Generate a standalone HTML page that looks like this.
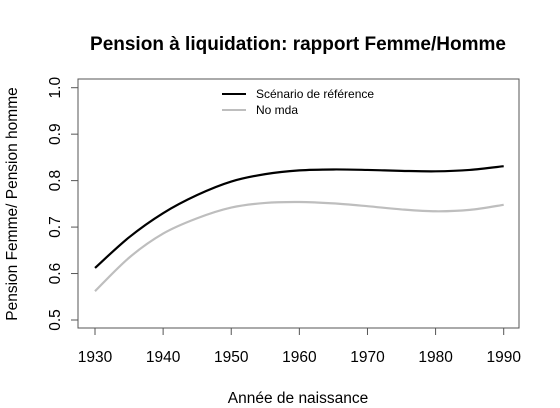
<!DOCTYPE html>
<html><head><meta charset="utf-8"><style>body{margin:0;background:#fff}svg{display:block;font-family:"Liberation Sans",Arial,sans-serif}</style></head>
<body>
<svg id="c" width="560" height="408"></svg>
<script>
const years=[1930,1935,1940,1945,1950,1955,1960,1965,1970,1975,1980,1985,1990];
const refSeries=[0.612,0.678,0.730,0.769,0.798,0.814,0.822,0.824,0.823,0.821,0.82,0.823,0.831];
const noMdaSeries=[0.562,0.634,0.686,0.719,0.742,0.752,0.754,0.751,0.745,0.738,0.734,0.737,0.748];
const xTicks=[1930,1940,1950,1960,1970,1980,1990];
const yTicks=[0.5,0.6,0.7,0.8,0.9,1.0];
const NS='http://www.w3.org/2000/svg',svg=document.getElementById('c');
const X=v=>95+(v-1930)*(503.7-95)/60;
const Y=v=>320-(v-0.5)*(320-87.7)/0.5;
function mk(t,a,txt){const e=document.createElementNS(NS,t);for(const k in a)e.setAttribute(k,a[k]);if(txt!=null)e.textContent=txt;svg.appendChild(e);return e;}
let e;
e=mk('text',{x:298,y:50,'text-anchor':'middle','font-size':19,'font-weight':'bold'},'Pension à liquidation: rapport Femme/Homme');


e=mk('rect',{x:78,y:79,width:441,height:249,fill:'none',stroke:'#555','stroke-width':1});


xTicks.forEach(t=>{
 e=mk('line',{x1:X(t),x2:X(t),y1:328,y2:335,stroke:'#555'});
 
 
 e=mk('text',{x:X(t),y:362,'text-anchor':'middle','font-size':15.5},String(t));
 
 
});
yTicks.forEach(t=>{
 e=mk('line',{x1:71,x2:78,y1:Y(t),y2:Y(t),stroke:'#555'});
 
 
 e=mk('text',{x:0,y:0,'text-anchor':'middle','font-size':15.5,transform:`translate(60,${Y(t)}) rotate(-90)`},t.toFixed(1));
 
 
});
e=mk('text',{x:298,y:403,'text-anchor':'middle','font-size':15.5},'Année de naissance');


e=mk('text',{x:0,y:0,'text-anchor':'middle','font-size':15.5,transform:'translate(17,204) rotate(-90)'},'Pension Femme/ Pension homme');


function path(vals){let d='';const p=years.map((y,i)=>[X(y),Y(vals[i])]);
 d='M'+p[0];for(let i=0;i<p.length-1;i++){const p0=p[i-1]||p[i],p1=p[i],p2=p[i+1],p3=p[i+2]||p2;
 d+=` C${p1[0]+(p2[0]-p0[0])/6},${p1[1]+(p2[1]-p0[1])/6} ${p2[0]-(p3[0]-p1[0])/6},${p2[1]-(p3[1]-p1[1])/6} ${p2[0]},${p2[1]}`;}return d;}
e=mk('path',{d:path(noMdaSeries),fill:'none',stroke:'#bebebe','stroke-width':2.2});


e=mk('path',{d:path(refSeries),fill:'none',stroke:'#000','stroke-width':2.2});


e=mk('line',{x1:222,x2:246,y1:94,y2:94,stroke:'#000','stroke-width':2});


e=mk('text',{x:256,y:98,'font-size':12},'Scénario de référence');


e=mk('line',{x1:222,x2:246,y1:110,y2:110,stroke:'#bebebe','stroke-width':2});


e=mk('text',{x:256,y:114,'font-size':12},'No mda');


</script>
</body></html>
